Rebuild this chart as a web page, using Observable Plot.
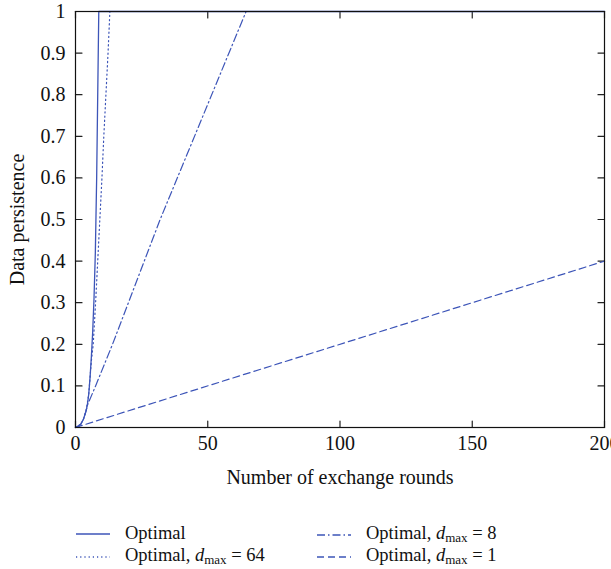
<!DOCTYPE html>
<html>
<head>
<meta charset="utf-8">
<script src="https://cdn.jsdelivr.net/npm/d3@7"></script>
<script src="https://cdn.jsdelivr.net/npm/@observablehq/plot@0.6"></script>
<style>
  body { margin: 0; background: #fff; font-family: "Liberation Serif", serif; }
  #chart { width: 611px; }
  .legend { position: relative; height: 69px; font-family: "Liberation Serif", serif; font-size: 18.5px; color: #111; }
  .item { position: absolute; display: flex; align-items: center; white-space: nowrap; }
  .item svg { margin-right: 15px; }
  sub { font-size: 13px; vertical-align: -3px; }
</style>
</head>
<body>
<div id="chart"></div>
<script>
const color = "#3d55b8";

// Series: x = exchange rounds, y = data persistence
const optimalX = [0, 1, 2, 3, 4, 4.5, 5, 5.5, 6, 6.5, 7, 7.5, 8, 8.5, 8.8, 200];
const optimalY = [0, 0.002, 0.008, 0.02, 0.04, 0.055, 0.08, 0.12, 0.17, 0.23, 0.31, 0.42, 0.6, 0.85, 1, 1];

const d64X = [0, 2, 3, 4, 5, 5.5, 6, 6.7, 7.6, 8.4, 9.2, 10, 10.7, 11.5, 12.3, 13, 200];
const d64Y = [0, 0.008, 0.02, 0.04, 0.08, 0.12, 0.16, 0.2, 0.3, 0.4, 0.5, 0.6, 0.7, 0.8, 0.9, 1, 1];

const d8X = [0, 2, 3, 4, 4.6, 7.6, 14, 32, 64.5, 200];
const d8Y = [0, 0.008, 0.02, 0.04, 0.055, 0.1, 0.2, 0.5, 1, 1];

const d1X = [0, 200];
const d1Y = [0, 0.4];

const xTicks = [0, 50, 100, 150, 200];
const yTicks = [0, 0.1, 0.2, 0.3, 0.4, 0.5, 0.6, 0.7, 0.8, 0.9, 1];

const toRows = (xs, ys) => xs.map((x, i) => ({x, y: ys[i]}));
const fmtY = d => String(+d.toFixed(1));

const W = 611, H = 500, ML = 75, MR = 7, MT = 11, MB = 73;
const innerW = W - ML - MR, innerH = H - MT - MB;
const TL = 6.5; // inward tick length in px
const tlx = TL * 200 / innerW, tly = TL / innerH; // same length in data units

// tick segments as little two-point lines (grouped by id)
const tickRows = [];
xTicks.forEach((t, i) => {
  tickRows.push({id: "xb" + i, x: t, y: 0}, {id: "xb" + i, x: t, y: tly});
  tickRows.push({id: "xt" + i, x: t, y: 1}, {id: "xt" + i, x: t, y: 1 - tly});
});
yTicks.forEach((t, i) => {
  tickRows.push({id: "yl" + i, x: 0, y: t}, {id: "yl" + i, x: tlx, y: t});
  tickRows.push({id: "yr" + i, x: 200, y: t}, {id: "yr" + i, x: 200 - tlx, y: t});
});

const chart = Plot.plot({
  width: W,
  height: H,
  marginLeft: ML,
  marginRight: MR,
  marginTop: MT,
  marginBottom: MB,
  style: { fontFamily: "Liberation Serif, serif", fontSize: "20px", color: "#111", background: "white", overflow: "visible" },
  x: { domain: [0, 200] },
  y: { domain: [0, 1] },
  marks: [
    Plot.axisX({ ticks: xTicks, tickSize: 0, tickPadding: 8, fontSize: 20,
                 label: "Number of exchange rounds", labelAnchor: "center", labelArrow: "none", labelOffset: 56 }),
    Plot.axisY({ ticks: yTicks, tickSize: 0, tickPadding: 10, fontSize: 20, tickFormat: fmtY,
                 label: "Data persistence", labelAnchor: "center", labelArrow: "none", labelOffset: 66 }),
    // inward ticks on all four sides
    Plot.line(tickRows, { x: "x", y: "y", z: "id", stroke: "#222", strokeWidth: 1.2 }),
    Plot.line(toRows(d1X, d1Y), { x: "x", y: "y", stroke: color, strokeWidth: 1.2, strokeDasharray: "7,4" }),
    Plot.line(toRows(d8X, d8Y), { x: "x", y: "y", stroke: color, strokeWidth: 1.2, strokeDasharray: "8,3,1.5,3" }),
    Plot.line(toRows(d64X, d64Y), { x: "x", y: "y", stroke: color, strokeWidth: 1.2, strokeDasharray: "1.2,3" }),
    Plot.line(toRows(optimalX, optimalY), { x: "x", y: "y", stroke: color, strokeWidth: 1.3 }),
    Plot.frame({ stroke: "#111", strokeWidth: 1.2 })
  ]
});
document.getElementById("chart").appendChild(chart);

// Legend
const legendItems = [
  { label: "Optimal", dash: null, left: 76, top: 36 },
  { label: "Optimal, <i>d</i><sub>max</sub> = 8", dash: "8,3,1.5,3", left: 317, top: 36 },
  { label: "Optimal, <i>d</i><sub>max</sub> = 64", dash: "1.2,3", left: 76, top: 58 },
  { label: "Optimal, <i>d</i><sub>max</sub> = 1", dash: "7,4", left: 317, top: 58 }
];
const legend = document.createElement("div");
legend.className = "legend";
for (const it of legendItems) {
  const div = document.createElement("div");
  div.className = "item";
  div.style.left = it.left + "px";
  div.style.top = (it.top - 13) + "px";
  div.innerHTML = `<svg width="34" height="10"><line x1="0" x2="34" y1="5" y2="5" stroke="${color}" stroke-width="1.3" ${it.dash ? `stroke-dasharray="${it.dash}"` : ""}/></svg><span>${it.label}</span>`;
  legend.appendChild(div);
}
document.getElementById("chart").appendChild(legend);
</script>
</body>
</html>
